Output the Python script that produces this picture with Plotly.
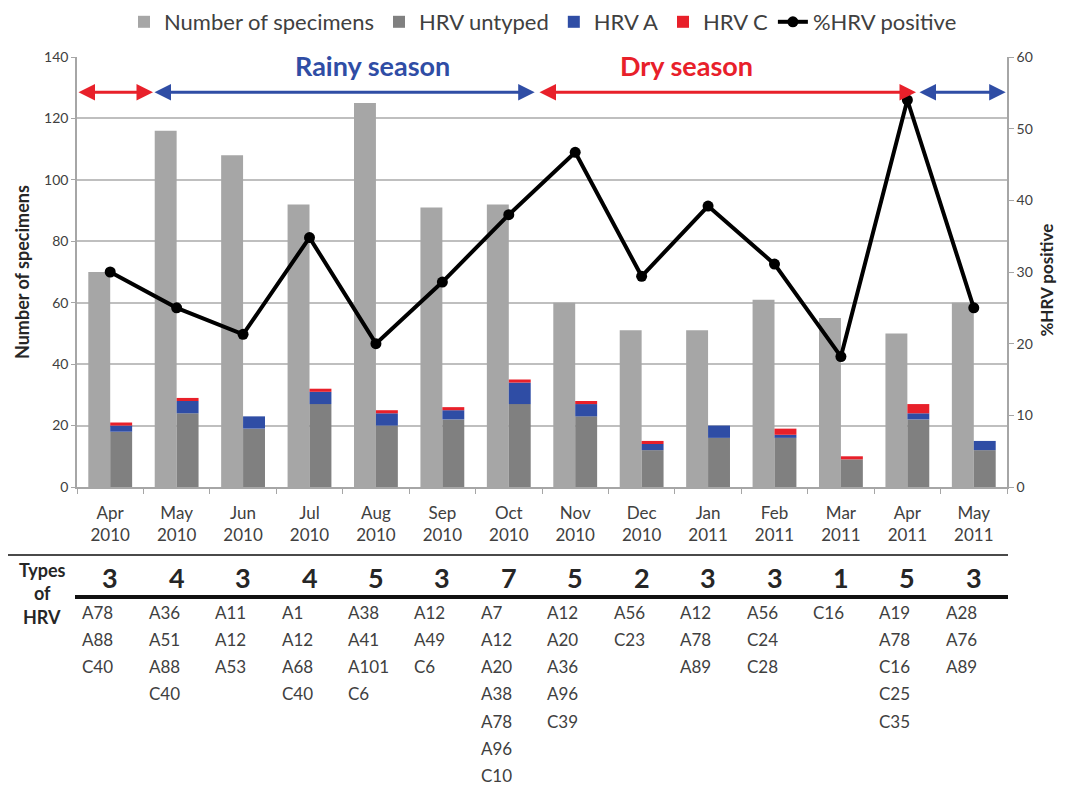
import plotly.graph_objects as go

months = ["Apr<br>2010", "May<br>2010", "Jun<br>2010", "Jul<br>2010", "Aug<br>2010", "Sep<br>2010",
          "Oct<br>2010", "Nov<br>2010", "Dec<br>2010", "Jan<br>2011", "Feb<br>2011", "Mar<br>2011",
          "Apr<br>2011", "May<br>2011"]
specimens = [70, 116, 108, 92, 125, 91, 92, 60, 51, 51, 61, 55, 50, 60]
hrv_untyped = [18, 24, 19, 27, 20, 22, 27, 23, 12, 16, 16, 9, 22, 12]
hrv_a = [2, 4, 4, 4, 4, 3, 7, 4, 2, 4, 1, 0, 2, 3]
hrv_c = [1, 1, 0, 1, 1, 1, 1, 1, 1, 0, 2, 1, 3, 0]
pct_positive = [30, 25, 21.3, 34.8, 20, 28.6, 38, 46.7, 29.4, 39.2, 31.1, 18.2, 54, 25]
type_counts = [3, 4, 3, 4, 5, 3, 7, 5, 2, 3, 3, 1, 5, 3]
type_lists = [
    ["A78", "A88", "C40"],
    ["A36", "A51", "A88", "C40"],
    ["A11", "A12", "A53"],
    ["A1", "A12", "A68", "C40"],
    ["A38", "A41", "A101", "C6"],
    ["A12", "A49", "C6"],
    ["A7", "A12", "A20", "A38", "A78", "A96", "C10"],
    ["A12", "A20", "A36", "A96", "C39"],
    ["A56", "C23"],
    ["A12", "A78", "A89"],
    ["A56", "C24", "C28"],
    ["C16"],
    ["A19", "A78", "C16", "C25", "C35"],
    ["A28", "A76", "A89"],
]
# season arrows: (start x, end x, colour)
season_arrows = [(-0.5, 0.644, "red"), (0.644, 6.39, "blue"), (6.44, 12.13, "red"), (12.16, 13.48, "blue")]

FONT = "Lato"
GRAY_TXT = "#404040"
DARK_TXT = "#262626"
BLUE = "#2F4DA5"
RED = "#E8202A"
COLS = {"red": RED, "blue": BLUE}

base_a = hrv_untyped
base_c = [u + a for u, a in zip(hrv_untyped, hrv_a)]

fig = go.Figure()
fig.add_trace(go.Bar(x=months, y=specimens, name="Number of specimens", marker_color="#A6A6A6",
                     width=0.33, offset=-0.33, marker_line_width=0))
fig.add_trace(go.Bar(x=months, y=hrv_untyped, name="HRV untyped", marker_color="#808080",
                     width=0.33, offset=0, marker_line_width=0))
fig.add_trace(go.Bar(x=months, y=hrv_a, base=base_a, name="HRV A", marker_color=BLUE,
                     width=0.33, offset=0, marker_line_width=0))
fig.add_trace(go.Bar(x=months, y=hrv_c, base=base_c, name="HRV C", marker_color=RED,
                     width=0.33, offset=0, marker_line_width=0))
fig.add_trace(go.Scatter(x=months, y=pct_positive, name="%HRV positive", yaxis="y2",
                         mode="lines+markers", line=dict(color="black", width=4),
                         marker=dict(color="black", size=11)))

ann = []
shapes = []
H = 430.0
BOT = 487.0

def py(pix):
    return (BOT - pix) / H

def px(pix):
    return (pix - 77) / 930.0

def label(x, y, text, size, color, xref="paper", xanchor="center", angle=0):
    ann.append(dict(x=x, y=y, xref=xref, yref="paper", text=text, showarrow=False,
                    xanchor=xanchor, yanchor="middle", textangle=angle,
                    font=dict(family=FONT, size=size, color=color)))

# season arrows
for x0, x1, c in season_arrows:
    ann.append(dict(x=x1, y=128.5, ax=x0, ay=128.5, xref="x", yref="y", axref="x", ayref="y",
                    showarrow=True, arrowhead=2, startarrowhead=2, arrowside="end+start",
                    arrowsize=1.1, startarrowsize=1.1, arrowwidth=3, arrowcolor=COLS[c],
                    standoff=0, startstandoff=0, text=""))
label(px(372), py(65), "<b>Rainy season</b>", 27, BLUE)
label(px(686), py(65), "<b>Dry season</b>", 27, RED)

# axis titles
label(px(22), 0.5, "<b>Number of specimens</b>", 18, DARK_TXT, angle=-90)
label(px(1047), 0.48, "<b>%HRV positive</b>", 17, DARK_TXT, angle=-90)

# table lines
shapes.append(dict(type="line", xref="paper", yref="paper", x0=px(8), x1=px(1008),
                   y0=py(555), y1=py(555), line=dict(color="#4a4a4a", width=2)))
shapes.append(dict(type="line", xref="paper", yref="paper", x0=px(75), x1=px(1008),
                   y0=py(597), y1=py(597), line=dict(color="#111111", width=4)))

for lbl, pix in [("Types", 570), ("of", 593), ("HRV", 617)]:
    label(px(42), py(pix), "<b>" + lbl + "</b>", 18, DARK_TXT)

for i, (n, lst) in enumerate(zip(type_counts, type_lists)):
    label(i, py(577), "<b>%d</b>" % n, 27, DARK_TXT, xref="x")
    for k, t in enumerate(lst):
        label(i - 0.45, py(612 + 27.3 * k), t, 17, GRAY_TXT, xref="x", xanchor="left")

# the page shows the figure 8px in from the top-left corner
fig.update_layout(
    width=1057, height=778,
    margin=dict(l=69, r=58, t=49, b=299, autoexpand=False),
    paper_bgcolor="white", plot_bgcolor="white",
    barmode="overlay",
    font=dict(family=FONT, color=GRAY_TXT),
    showlegend=True,
    legend=dict(orientation="h", x=px(543), xanchor="center", y=py(1), yanchor="top",
                font=dict(family=FONT, size=22, color=GRAY_TXT), traceorder="normal",
                itemwidth=30, tracegroupgap=0),
    xaxis=dict(type="category", range=[-0.5, 13.5], showline=True, linecolor="#A6A6A6", linewidth=1.5,
               ticks="outside", tickson="boundaries", ticklen=5, tickcolor="#A6A6A6",
               tickfont=dict(family=FONT, size=17, color=GRAY_TXT), ticklabelstandoff=10,
               showgrid=False, fixedrange=True),
    yaxis=dict(range=[0, 140], dtick=20, showgrid=True, gridcolor="#BFBFBF", gridwidth=1.5,
               showline=True, linecolor="#A6A6A6", linewidth=1.5, ticks="outside", ticklen=4,
               tickcolor="#A6A6A6", tickfont=dict(family=FONT, size=14, color="#404040"),
               zeroline=False),
    yaxis2=dict(range=[0, 60], dtick=10, overlaying="y", side="right", showgrid=False,
                showline=True, linecolor="#A6A6A6", linewidth=1.5, ticks="outside", ticklen=5,
                tickcolor="#A6A6A6", tickfont=dict(family=FONT, size=14, color="#404040"),
                zeroline=False),
    annotations=ann,
    shapes=shapes,
)

fig.write_html("out.html")
